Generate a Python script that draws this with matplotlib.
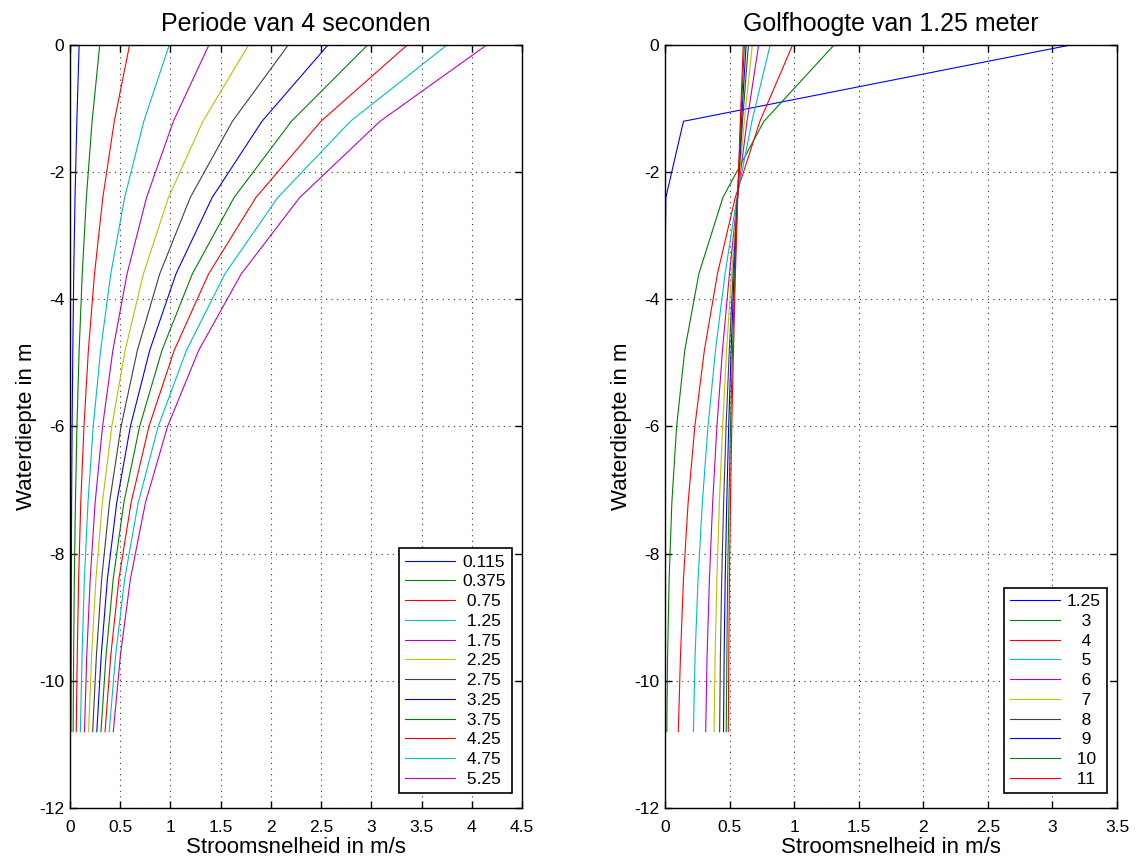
import matplotlib
matplotlib.use("Agg")
from matplotlib import pyplot as plt
from matplotlib.ticker import FormatStrFormatter

plt.rcParams['font.family'] = ['Liberation Sans', 'DejaVu Sans']
plt.rcParams['axes.unicode_minus'] = False

# depth below water surface [m]
depth = [0, -1.2, -2.4, -3.6, -4.8, -6.0, -7.2, -8.4, -9.6, -10.8]

# left: period 4 s, several wave heights [m]
heights = ["0.115", "0.375", " 0.75", " 1.25", " 1.75", " 2.25",
           " 2.75", " 3.25", " 3.75", " 4.25", " 4.75", " 5.25"]
u_heights = [
    [0.091, 0.068, 0.050, 0.037, 0.028, 0.021, 0.016, 0.013, 0.011, 0.009],
    [0.296, 0.220, 0.163, 0.122, 0.091, 0.069, 0.054, 0.043, 0.036, 0.031],
    [0.593, 0.441, 0.327, 0.244, 0.183, 0.139, 0.107, 0.086, 0.072, 0.062],
    [0.988, 0.735, 0.544, 0.406, 0.305, 0.231, 0.179, 0.143, 0.120, 0.103],
    [1.383, 1.029, 0.762, 0.568, 0.427, 0.324, 0.250, 0.201, 0.167, 0.144],
    [1.778, 1.323, 0.980, 0.731, 0.549, 0.416, 0.322, 0.258, 0.215, 0.185],
    [2.173, 1.617, 1.197, 0.893, 0.671, 0.508, 0.393, 0.315, 0.263, 0.226],
    [2.568, 1.911, 1.415, 1.055, 0.794, 0.601, 0.465, 0.372, 0.311, 0.267],
    [2.963, 2.204, 1.633, 1.218, 0.916, 0.693, 0.536, 0.430, 0.359, 0.308],
    [3.358, 2.498, 1.850, 1.380, 1.038, 0.786, 0.608, 0.487, 0.406, 0.349],
    [3.753, 2.792, 2.068, 1.542, 1.160, 0.878, 0.679, 0.544, 0.454, 0.390],
    [4.148, 3.086, 2.286, 1.705, 1.282, 0.971, 0.751, 0.601, 0.502, 0.431],
]

# right: wave height 1.25 m, several periods [s]
periods = ["1.25", "   3", "   4", "   5", "   6", "   7",
           "   8", "   9", "  10", "  11"]
u_periods = [
    [3.142, 0.143, 0.0065, 0.0003, 0.0, 0.0, 0.0, 0.0, 0.0, 0.0],
    [1.309, 0.766, 0.448, 0.262, 0.153, 0.090, 0.053, 0.032, 0.020, 0.014],
    [0.988, 0.735, 0.544, 0.406, 0.305, 0.231, 0.179, 0.143, 0.120, 0.103],
    [0.814, 0.673, 0.557, 0.465, 0.391, 0.333, 0.289, 0.256, 0.233, 0.220],
    [0.725, 0.635, 0.560, 0.499, 0.445, 0.402, 0.369, 0.344, 0.326, 0.315],
    [0.676, 0.614, 0.561, 0.515, 0.477, 0.446, 0.421, 0.402, 0.388, 0.380],
    [0.646, 0.600, 0.561, 0.527, 0.498, 0.473, 0.454, 0.439, 0.429, 0.423],
    [0.628, 0.592, 0.562, 0.535, 0.512, 0.493, 0.478, 0.466, 0.458, 0.453],
    [0.615, 0.587, 0.562, 0.541, 0.523, 0.507, 0.495, 0.485, 0.479, 0.474],
    [0.606, 0.583, 0.563, 0.545, 0.530, 0.517, 0.507, 0.499, 0.494, 0.490],
]

# old matlab colour order
colors = [(0, 0, 1), (0, 0.5, 0), (1, 0, 0), (0, 0.75, 0.75),
          (0.75, 0, 0.75), (0.75, 0.75, 0), (0.25, 0.25, 0.25)]

fig = plt.figure(figsize=(11.44, 8.61), dpi=100)
ax1 = fig.add_axes([70 / 1144, 53 / 861, 452 / 1144, 763 / 861])
ax2 = fig.add_axes([665 / 1144, 53 / 861, 452 / 1144, 763 / 861])

panels = [
    (ax1, u_heights, heights, "Periode van 4 seconden", 4.5),
    (ax2, u_periods, periods, "Golfhoogte van 1.25 meter", 3.5),
]
for ax, data, labels, title, xmax in panels:
    for i in range(len(data)):
        ax.plot(data[i], depth, color=colors[i % 7], lw=0.8, label=labels[i])
    ax.set_xlim(0, xmax)
    ax.set_ylim(-12, 0)
    ax.set_xticks([k * 0.5 for k in range(int(xmax * 2) + 1)])
    ax.set_yticks(range(-12, 1, 2))
    ax.xaxis.set_major_formatter(FormatStrFormatter('%g'))
    ax.grid(True, linestyle=(0, (1, 4)), color='0.2', linewidth=0.8)
    ax.tick_params(direction='in', top=True, right=True, length=5,
                   width=1, labelsize=12.5)
    ax.tick_params(axis='x', pad=9)
    ax.tick_params(axis='y', pad=4)
    for s in ax.spines.values():
        s.set_linewidth(1.0)
    ax.set_title(title, fontsize=18, pad=10)
    ax.set_xlabel("Stroomsnelheid in m/s", fontsize=16, labelpad=1)
    ax.set_ylabel("Waterdiepte in m", fontsize=16, labelpad=2)
    leg = ax.legend(loc='lower right', bbox_to_anchor=(1 - 10 / 452, 15 / 763),
                    borderaxespad=0, fontsize=12.5, fancybox=False,
                    framealpha=1, edgecolor='black', handlelength=2.9,
                    handletextpad=0.4, labelspacing=0.265, borderpad=0.35)
    leg.get_frame().set_linewidth(1.2)

fig.savefig("out.png", dpi=100)
